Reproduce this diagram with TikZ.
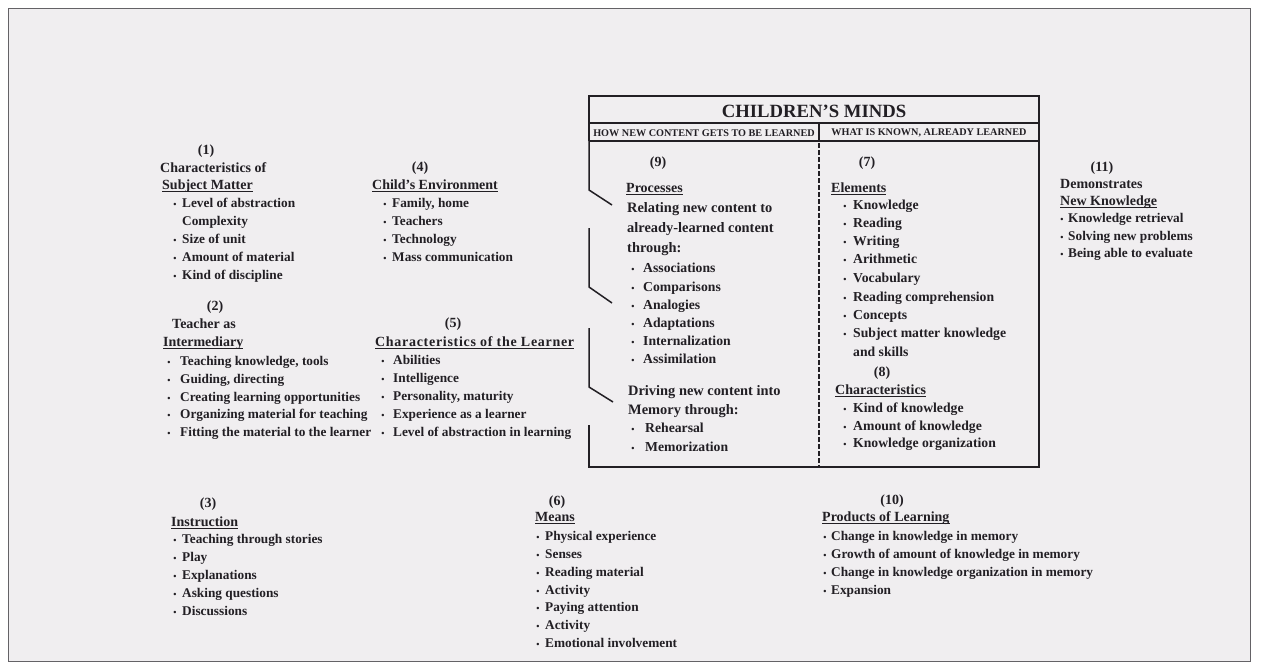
\documentclass[tikz,border=0pt]{standalone}
\usepackage{fontspec}
\setmainfont{Liberation Serif}
\definecolor{paper}{RGB}{240,238,240}
\definecolor{ink}{RGB}{34,31,36}
% underlined heading
\newcommand{\ulhead}[1]{\setbox0=\hbox{#1}\rlap{\copy0}\rule[-3pt]{\wd0}{1.2pt}}

\begin{document}
\begin{tikzpicture}[x=1pt,y=-1pt]
	\tikzset{
		txt/.style={inner sep=0pt, anchor=base west, text=ink, font=\bfseries\fontsize{13.3}{16}\selectfont},
		hd/.style={txt, font=\bfseries\fontsize{14}{16}\selectfont},
		num/.style={hd, anchor=base},
		bul/.style={inner sep=0pt, anchor=base, text=ink, font=\bfseries\fontsize{9}{10}\selectfont},
		boxtxt/.style={txt, font=\bfseries\fontsize{13.7}{16}\selectfont},
		para/.style={txt, font=\bfseries\fontsize{14.4}{17}\selectfont},
		boxline/.style={draw=ink, line width=1.5pt, line join=miter},
	}
	\fill[white] (0,0) rectangle (1262,669);
	\fill[paper] (8,8) rectangle (1250,661);
	\draw[ink!70, line width=0.8pt] (8,8) rectangle (1250,661);
	
	% children's minds box
	\draw[boxline] (589,141) -- (589,96) -- (1039,96) -- (1039,467) -- (589,467) -- (589,425);
	\draw[boxline] (589,123) -- (1039,123);
	\draw[boxline] (819,123) -- (819,141);
	\draw[ink, line width=2.6pt] (589,141) -- (1039,141);
	\draw[boxline] (589,141) -- (589,190) -- (612,205);
	\draw[boxline] (589,228) -- (589,287) -- (612,303);
	\draw[boxline] (589,328) -- (589,387) -- (613,402);
	\draw[ink, line width=1.6pt, dash pattern=on 5pt off 2pt] (819,143) -- (819,467);
	
	\node[text=ink, font=\bfseries\fontsize{18.7}{20}\selectfont] (title) at (814,111) {CHILDREN'S MINDS};
	\node[text=ink, font=\bfseries\fontsize{10.2}{11}\selectfont] (how) at (704,133) {HOW NEW CONTENT GETS TO BE LEARNED};
	\node[text=ink, font=\bfseries\fontsize{10.2}{11}\selectfont] (what) at (929,133) {WHAT IS KNOWN, ALREADY LEARNED};
	
	% (1)
	\node[num] (n1) at (206,154) {(1)};
	\node[hd] (h1a) at (160,172) {Characteristics of};
	\node[hd] (h1) at (162,189) {\ulhead{Subject Matter}};
	\foreach \y/\t [count=\i] in {207/Level of abstraction,243/Size of unit,261/Amount of material,279/Kind of discipline}{
		\node[bul] (b1-\i) at (175,\y) {\textbullet};
		\node[txt] (t1-\i) at (182,\y) {\t};
	}
	\node[txt] (t1-c) at (182,225) {Complexity};
	
	% (2)
	\node[num] (n2) at (215,310) {(2)};
	\node[hd] (h2a) at (172,328) {Teacher as};
	\node[hd] (h2) at (163,346) {\ulhead{Intermediary}};
	\foreach \y/\t [count=\i] in {365/{Teaching knowledge, tools},383/{Guiding, directing},401/Creating learning opportunities,418/Organizing material for teaching,436/Fitting the material to the learner}{
		\node[bul] (b2-\i) at (169,\y) {\textbullet};
		\node[txt] (t2-\i) at (180,\y) {\t};
	}
	
	% (3)
	\node[num] (n3) at (208,507) {(3)};
	\node[hd] (h3) at (171,526) {\ulhead{Instruction}};
	\foreach \y/\t [count=\i] in {543/Teaching through stories,561/Play,579/Explanations,597/Asking questions,615/Discussions}{
		\node[bul] (b3-\i) at (175,\y) {\textbullet};
		\node[txt] (t3-\i) at (182,\y) {\t};
	}
	
	% (4)
	\node[num] (n4) at (420,171) {(4)};
	\node[hd] (h4) at (372,189) {\ulhead{Child's Environment}};
	\foreach \y/\t [count=\i] in {207/{Family, home},225/Teachers,243/Technology,261/Mass communication}{
		\node[bul] (b4-\i) at (385,\y) {\textbullet};
		\node[txt] (t4-\i) at (392,\y) {\t};
	}
	
	% (5)
	\node[num] (n5) at (453,327) {(5)};
	\node[hd] (h5) at (375,346) {\addfontfeature{LetterSpace=5}\ulhead{Characteristics of the Learner}};
	\foreach \y/\t [count=\i] in {364/Abilities,382/Intelligence,400/{Personality, maturity},418/Experience as a learner,436/Level of abstraction in learning}{
		\node[bul] (b5-\i) at (383,\y) {\textbullet};
		\node[txt] (t5-\i) at (393,\y) {\t};
	}
	
	% (6)
	\node[num] (n6) at (557,505) {(6)};
	\node[hd] (h6) at (535,521) {\ulhead{Means}};
	\foreach \y/\t [count=\i] in {540/Physical experience,558/Senses,576/Reading material,594/Activity,611/Paying attention,629/Activity,647/Emotional involvement}{
		\node[bul] (b6-\i) at (538,\y) {\textbullet};
		\node[txt] (t6-\i) at (545,\y) {\t};
	}
	
	% (9)
	\node[num] (n9) at (658,166) {(9)};
	\node[hd] (h9) at (626,192) {\ulhead{Processes}};
	\node[para] (p9a) at (627,212) {Relating new content to};
	\node[para] (p9b) at (627,232) {already-learned content};
	\node[para] (p9c) at (627,252) {through:};
	\foreach \y/\t [count=\i] in {272/Associations,291/Comparisons,309/Analogies,327/Adaptations,345/Internalization,363/Assimilation}{
		\node[bul] (b9-\i) at (633,\y) {\textbullet};
		\node[boxtxt] (t9-\i) at (643,\y) {\t};
	}
	\node[para] (p9d) at (628,395) {Driving new content into};
	\node[para] (p9e) at (628,414) {Memory through:};
	\foreach \y/\t [count=\i] in {432/Rehearsal,451/Memorization}{
		\node[bul] (m9-\i) at (633,\y) {\textbullet};
		\node[boxtxt] (s9-\i) at (645,\y) {\t};
	}
	
	% (7) and (8)
	\node[num] (n7) at (867,166) {(7)};
	\node[hd] (h7) at (831,192) {\ulhead{Elements}};
	\foreach \y/\t [count=\i] in {209/Knowledge,227/Reading,245/Writing,263/Arithmetic,282/Vocabulary,301/Reading comprehension,319/Concepts,337/Subject matter knowledge}{
		\node[bul] (b7-\i) at (845,\y) {\textbullet};
		\node[boxtxt] (t7-\i) at (853,\y) {\t};
	}
	\node[boxtxt] (t7-s) at (853,356) {and skills};
	\node[num] (n8) at (882,376) {(8)};
	\node[hd] (h8) at (835,394) {\ulhead{Characteristics}};
	\foreach \y/\t [count=\i] in {412/Kind of knowledge,430/Amount of knowledge,447/Knowledge organization}{
		\node[bul] (b8-\i) at (845,\y) {\textbullet};
		\node[boxtxt] (t8-\i) at (853,\y) {\t};
	}
	
	% (10)
	\node[num] (n10) at (892,504) {(10)};
	\node[hd] (h10) at (822,521) {\ulhead{Products of Learning}};
	\foreach \y/\t [count=\i] in {540/Change in knowledge in memory,558/Growth of amount of knowledge in memory,576/Change in knowledge organization in memory,594/Expansion}{
		\node[bul] (b10-\i) at (825,\y) {\textbullet};
		\node[txt] (t10-\i) at (831,\y) {\t};
	}
	
	% (11)
	\node[num] (n11) at (1102,171) {(11)};
	\node[hd] (h11a) at (1060,188) {Demonstrates};
	\node[hd] (h11) at (1060,205) {\ulhead{New Knowledge}};
	\foreach \y/\t [count=\i] in {222/Knowledge retrieval,240/Solving new problems,257/Being able to evaluate}{
		\node[bul] (b11-\i) at (1062,\y) {\textbullet};
		\node[txt] (t11-\i) at (1068,\y) {\t};
	}
	
\end{tikzpicture}
\end{document}
